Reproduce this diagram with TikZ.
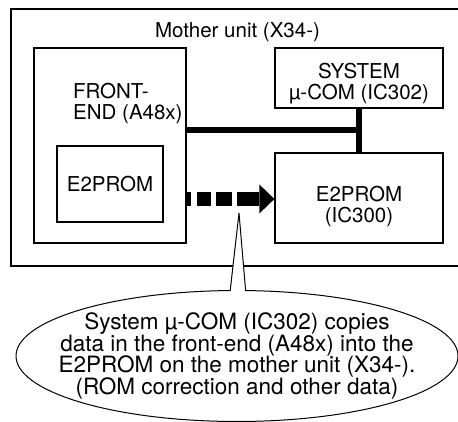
\documentclass[tikz,border=0pt]{standalone}
\usepackage{fontspec}
\setmainfont{TeX Gyre Heros}
\usepackage{tikz}
\usetikzlibrary{shapes.callouts, arrows.meta}
\newcommand{\boxfont}{\fontsize{20.5}{21}\selectfont}
\newcommand{\notefont}{\fontsize{22.5}{21.7}\selectfont}
\tikzstyle{unit} = [rectangle, draw=black, line width=2.4pt, inner sep=0pt]
\tikzstyle{board} = [rectangle, draw=black, line width=1.3pt, inner sep=0pt, align=center, font=\boxfont]
\tikzstyle{caption} = [inner sep=0pt, align=left, font=\boxfont]
\tikzstyle{bus} = [line width=5.5pt]
\tikzstyle{copydash} = [line width=14pt, dash pattern=on 4pt off 6pt on 14pt off 5pt on 16pt off 6pt]
\tikzstyle{copyarrow} = [line width=14pt, -{Triangle[length=15pt, width=29pt, line width=0pt]}]
\tikzstyle{note} = [ellipse callout, draw=black, fill=white, line width=1pt, minimum width=442pt, minimum height=131pt, inner xsep=-30pt, inner ysep=0pt, callout pointer arc=4, align=center, font=\notefont]

\begin{document}
\begin{tikzpicture}[x=1pt, y=-1pt]
\useasboundingbox (0,0) rectangle (458,422);
\node (mother) [unit, minimum width=459pt, minimum height=257pt] at (240.5,137.5) {};
\node (motherTitle) [caption, anchor=base] at (237.5,38) {Mother unit (X34-)};
\node (frontEnd) [board, minimum width=152pt, minimum height=195pt] at (110,145.5) {};
\node (feTitle) [caption, anchor=north west] at (73,83) {FRONT-\\END (A48x)};
\node (feRom) [board, minimum width=106pt, minimum height=76pt] at (110,184) {E2PROM};
\node (sysCom) [board, minimum width=168pt, minimum height=60pt, text height=43pt, text depth=0pt] at (359,78) {SYSTEM\\µ-COM (IC302)};
\node (mainRom) [board, minimum width=168pt, minimum height=90pt, text height=50pt, text depth=0pt] at (359,198) {E2PROM\\(IC300)};

% bus between the boards
\coordinate (busJoint) at (359,130);
\draw [bus] (sysCom) -- (mainRom);
\draw [bus] (busJoint) -- (busJoint -| frontEnd.east);

% data copy
\coordinate (copyMid) at (237,199);
\draw [copydash] (copyMid -| frontEnd.east) -- (copyMid);
\draw [copyarrow] (copyMid) -- (copyMid -| mainRom.west);

\coordinate (copyTip) at (239,213);
\node (note) [note, callout absolute pointer=(copyTip)] at (237,356) {System µ-COM (IC302) copies\\data in the front-end (A48x) into the\\E2PROM on the mother unit (X34-).\\(ROM correction and other data)};
\end{tikzpicture}
\end{document}
